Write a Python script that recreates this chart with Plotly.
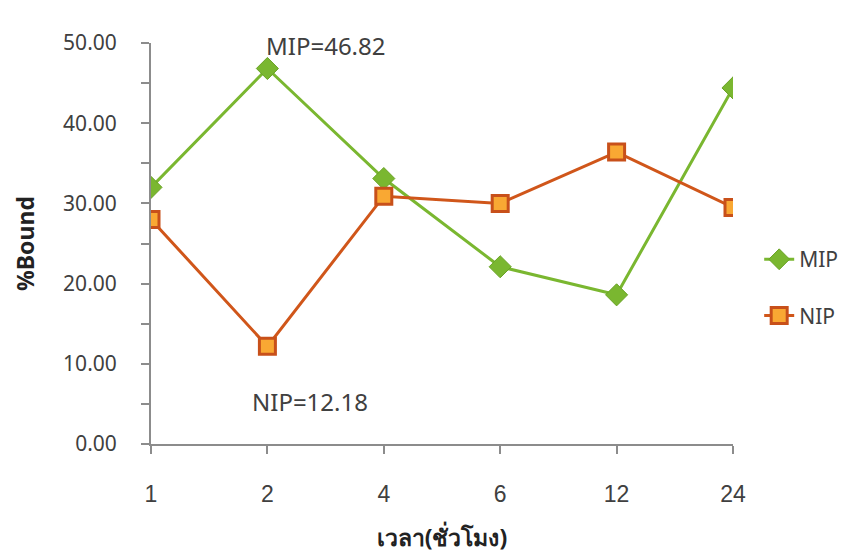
import plotly.graph_objects as go

# Sampling times (hours) and percent bound for each polymer
hours = ["1", "2", "4", "6", "12", "24"]
mip_bound = [32.0, 46.82, 33.1, 22.1, 18.6, 44.4]
nip_bound = [28.0, 12.18, 30.9, 30.0, 36.4, 29.5]

y_ticks = [0, 10, 20, 30, 40, 50]
y_tick_text = ["0.00", "10.00", "20.00", "30.00", "40.00", "50.00"]

axis_grey = "#8c8c8c"
text_grey = "#404040"

fig = go.Figure()
fig.add_trace(go.Scatter(
    x=hours, y=mip_bound, name="MIP", mode="lines+markers",
    legendgroup="mip",
    line=dict(color="#7ab730", width=3),
    marker=dict(symbol="diamond", size=17, color="#7ab730",
                line=dict(color="#6aa326", width=1)),
))
fig.add_trace(go.Scatter(
    x=hours, y=nip_bound, name="NIP", mode="lines+markers",
    legendgroup="nip",
    line=dict(color="#d0561a", width=3),
    marker=dict(symbol="square", size=16, color="#f9a833",
                line=dict(color="#c8501a", width=3)),
))

# Peak MIP and lowest NIP values, labelled beside their points
peak = mip_bound.index(max(mip_bound))
low = nip_bound.index(min(nip_bound))
fig.add_annotation(x=peak, y=mip_bound[peak], text=f"MIP={mip_bound[peak]:.2f}",
                   showarrow=False, yshift=23, xshift=59,
                   font=dict(size=24, color=text_grey, family="Noto Sans"))
fig.add_annotation(x=low, y=nip_bound[low], text=f"NIP={nip_bound[low]:.2f}",
                   showarrow=False, yshift=-55, xshift=43,
                   font=dict(size=24, color=text_grey, family="Noto Sans"))

fig.update_layout(
    width=862, height=553,
    margin=dict(l=151, r=129, t=43, b=109),
    paper_bgcolor="white", plot_bgcolor="white",
    font=dict(family="Noto Sans", color=text_grey, size=17),
    legend=dict(x=1.045, y=0.39, xanchor="left", yanchor="middle",
                font=dict(size=21, color=text_grey),
                traceorder="grouped", tracegroupgap=26,
                bgcolor="rgba(0,0,0,0)"),
    xaxis=dict(
        type="category", range=[0, 5], showgrid=False, zeroline=False,
        automargin=False,
        showline=True, linecolor=axis_grey, linewidth=2,
        ticks="outside", ticklen=8, tickcolor=axis_grey, tickwidth=2,
        ticklabelstandoff=20,
        tickfont=dict(size=23, color=text_grey, family="Liberation Sans"),
        title=dict(text="<b>เวลา(ชั่วโมง)</b>", font=dict(size=23, color="#222222"),
                   standoff=26),
    ),
    yaxis=dict(
        range=[0, 50], showgrid=False, zeroline=False,
        automargin=False,
        showline=True, linecolor=axis_grey, linewidth=2,
        tickvals=y_ticks, ticktext=y_tick_text,
        ticks="outside", ticklen=8, tickcolor=axis_grey, tickwidth=2,
        ticklabelstandoff=20,
        minor=dict(dtick=5, ticks="outside", ticklen=8, tickcolor=axis_grey,
                   tickwidth=2, showgrid=False),
        tickfont=dict(size=21, color=text_grey),
        title=dict(text="<b>%Bound</b>", font=dict(size=23, color="#222222"),
                   standoff=22),
    ),
)

fig.write_html("out.html")
